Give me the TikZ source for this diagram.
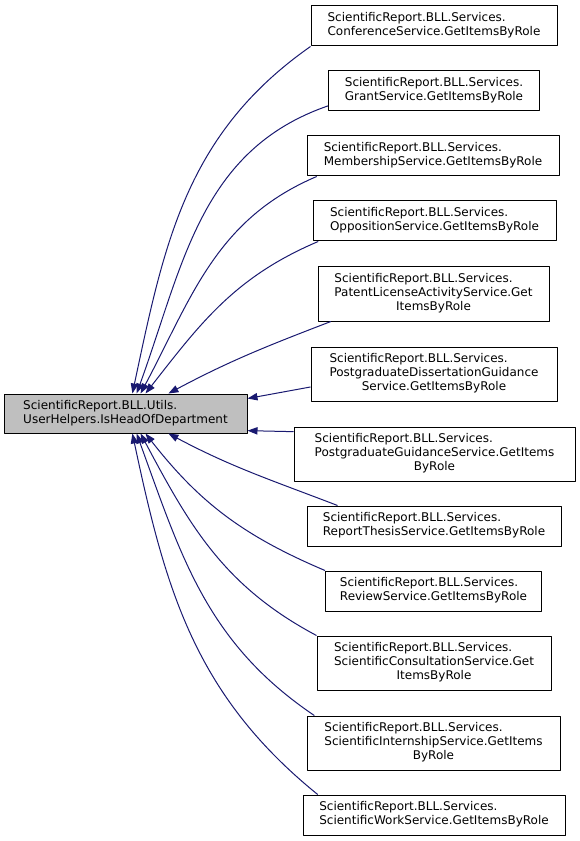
\documentclass[tikz,border=0pt]{standalone}
\usepackage{fontspec}
\setsansfont{DejaVu Sans}
\usetikzlibrary{arrows.meta}
\definecolor{edgeblue}{RGB}{25,25,112}
\definecolor{mainfill}{RGB}{191,191,191}
\newcommand\fname[2]{\begin{tabular}{@{}l@{}}#1\end{tabular}}
\newcommand\fnamec[2]{\begin{tabular}{@{}l@{}}#1\\\multicolumn{1}{@{}c@{}}{#2}\end{tabular}}
\begin{document}
\begin{tikzpicture}[x=0.75pt,y=-0.75pt,line join=round,
  font=\sffamily\fontsize{9}{10.5}\selectfont,
  fnode/.style={draw=black,fill=white,line width=0.75pt,inner xsep=2pt,inner ysep=0pt,minimum height=30pt},
  fnode3/.style={fnode,minimum height=40.5pt},
  calls/.style={draw=edgeblue,line width=0.75pt,-{Triangle[length=7.5pt,width=5.5pt]}}]
  \useasboundingbox (0,0) rectangle (579,841);
  \node[fnode,fill=mainfill,minimum width=243*0.75pt,minimum height=29.25pt] (main) at (125.5,413.5)
    {\fname{ScientificReport.BLL.Utils.\\UserHelpers.IsHeadOfDepartment}{}};
  \node[fnode,minimum width=246*0.75pt] (conf) at (434,26) {\fname{ScientificReport.BLL.Services.\\ConferenceService.GetItemsByRole}{}};
  \node[fnode,minimum width=211*0.75pt] (grant) at (434,91) {\fname{ScientificReport.BLL.Services.\\GrantService.GetItemsByRole}{}};
  \node[fnode,minimum width=252*0.75pt] (memb) at (433,156) {\fname{ScientificReport.BLL.Services.\\MembershipService.GetItemsByRole}{}};
  \node[fnode,minimum width=243*0.75pt] (oppo) at (434.5,221) {\fname{ScientificReport.BLL.Services.\\OppositionService.GetItemsByRole}{}};
  \node[fnode3,minimum width=231*0.75pt] (patent) at (433.5,294) {\fnamec{ScientificReport.BLL.Services.\\PatentLicenseActivityService.Get}{ItemsByRole}};
  \node[fnode3,minimum width=246*0.75pt] (pdiss) at (434,374) {\fnamec{ScientificReport.BLL.Services.\\PostgraduateDissertationGuidance}{Service.GetItemsByRole}};
  \node[fnode3,minimum width=281*0.75pt] (pguid) at (434.5,454) {\fnamec{ScientificReport.BLL.Services.\\PostgraduateGuidanceService.GetItems}{ByRole}};
  \node[fnode,minimum width=254*0.75pt] (thesis) at (434,526) {\fname{ScientificReport.BLL.Services.\\ReportThesisService.GetItemsByRole}{}};
  \node[fnode,minimum width=216*0.75pt] (review) at (433.5,591) {\fname{ScientificReport.BLL.Services.\\ReviewService.GetItemsByRole}{}};
  \node[fnode3,minimum width=234*0.75pt] (consult) at (434,663) {\fnamec{ScientificReport.BLL.Services.\\ScientificConsultationService.Get}{ItemsByRole}};
  \node[fnode3,minimum width=253*0.75pt] (intern) at (433.5,743) {\fnamec{ScientificReport.BLL.Services.\\ScientificInternshipService.GetItems}{ByRole}};
  \node[fnode,minimum width=262*0.75pt] (swork) at (434,815) {\fname{ScientificReport.BLL.Services.\\ScientificWorkService.GetItemsByRole}{}};
  \draw[calls] (conf.south west) to[out=215,in=78] (main.71.6);
  \draw[calls] (grant.188) to[out=199,in=70] (main.61.7);
  \draw[calls] (memb.190) to[out=203,in=62] (main.53.4);
  \draw[calls] (oppo.190) to[out=203,in=52] (main.45);
  \draw[calls] (patent.195) to[out=201,in=28] (main.25.2);
  \draw[calls] (pdiss.186.5) -- (main.7.7);
  \draw[calls] (pguid.171.5) -- (main.-8.2);
  \draw[calls] (thesis.168.8) to[out=159,in=-28] (main.-25.2);
  \draw[calls] (review.north west) to[out=157,in=-52] (main.-45);
  \draw[calls] (consult.north west) to[out=152,in=-62] (main.-53.4);
  \draw[calls] (intern.167.5) to[out=146,in=-70] (main.-61.7);
  \draw[calls] (swork.170.7) to[out=141,in=-78] (main.-71.6);
\end{tikzpicture}
\end{document}
